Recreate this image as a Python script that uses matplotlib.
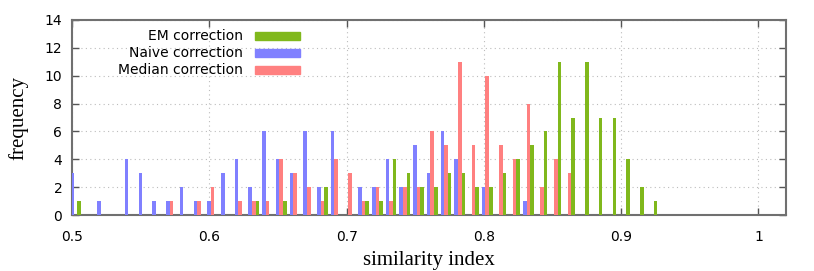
import matplotlib
matplotlib.use("Agg")
import matplotlib.pyplot as plt
from matplotlib.patches import Rectangle
import numpy as np

# bin positions (similarity index) and counts per method
em_bins = [0.50, 0.63, 0.65, 0.68, 0.71, 0.72, 0.73, 0.74, 0.75, 0.76, 0.77,
           0.78, 0.79, 0.80, 0.81, 0.82, 0.83, 0.84, 0.85, 0.86, 0.87, 0.88,
           0.89, 0.90, 0.91, 0.92]
em_counts = [1, 1, 1, 2, 1, 1, 4, 3, 2, 2, 3,
             3, 2, 2, 3, 4, 5, 6, 11, 7, 11, 7,
             7, 4, 2, 1]

naive_bins = [0.50, 0.52, 0.54, 0.55, 0.56, 0.57, 0.58, 0.59, 0.60, 0.61,
              0.62, 0.63, 0.64, 0.65, 0.66, 0.67, 0.68, 0.69, 0.71, 0.72,
              0.73, 0.74, 0.75, 0.76, 0.77, 0.78, 0.80, 0.83]
naive_counts = [3, 1, 4, 3, 1, 1, 2, 1, 1, 3,
                4, 2, 6, 4, 3, 6, 2, 6, 2, 2,
                4, 2, 5, 3, 6, 4, 2, 1]

median_bins = [0.57, 0.59, 0.60, 0.62, 0.63, 0.64, 0.65, 0.66, 0.67, 0.68,
               0.69, 0.70, 0.71, 0.72, 0.73, 0.74, 0.75, 0.76, 0.77, 0.78,
               0.79, 0.80, 0.81, 0.82, 0.83, 0.84, 0.85, 0.86]
median_counts = [1, 1, 2, 1, 1, 1, 4, 3, 2, 1,
                 4, 3, 1, 2, 1, 2, 2, 6, 5, 11,
                 5, 10, 5, 4, 8, 2, 4, 3]

labels = ["EM correction", "Naive correction", "Median correction"]
green, blue, red = "#80b81c", "#8080ff", "#ff8080"

w = 0.0026
fig = plt.figure(figsize=(8.14, 2.71), dpi=100)
ax = fig.add_axes([0.0885, 0.2066, 0.877, 0.7196])

ax.bar(np.array(naive_bins) - 0.0002, naive_counts, width=w, color=blue, zorder=3)
ax.bar(np.array(median_bins) + 0.0024, median_counts, width=w, color=red, zorder=3)
ax.bar(np.array(em_bins) + 0.005, em_counts, width=w, color=green, zorder=3)

ax.set_xlim(0.5, 1.02)
ax.set_ylim(0, 14)
ax.set_xticks([0.5, 0.6, 0.7, 0.8, 0.9, 1.0])
ax.set_xticklabels(["0.5", "0.6", "0.7", "0.8", "0.9", "1"])
ax.set_yticks(range(0, 15, 2))
ax.grid(True, color="#bcbcbc", linestyle=(0, (1, 3)), linewidth=0.8, zorder=0)
ax.tick_params(direction="in", length=5, width=1, color="#555555",
               top=True, right=True, labelsize=10)
ax.tick_params(axis="x", pad=11)
ax.tick_params(axis="y", pad=7)
for s in ax.spines.values():
    s.set_color("#707070")
    s.set_linewidth(1.5)

ax.set_xlabel("similarity index", family="Liberation Serif", fontsize=15, labelpad=5)
ax.set_ylabel("frequency", family="Liberation Serif", fontsize=15, labelpad=12)

# key, gnuplot style: right-justified text followed by a colour sample
rows = [0.920, 0.830, 0.742]
for lab, col, y in zip(labels, [green, blue, red], rows):
    ax.text(0.2395, y, lab, transform=ax.transAxes, ha="right", va="center",
            fontsize=10, zorder=5)
    ax.add_patch(Rectangle((0.2563, y - 0.02), 0.063, 0.04, transform=ax.transAxes,
                           color=col, zorder=5))

fig.savefig("out.png", dpi=100)
